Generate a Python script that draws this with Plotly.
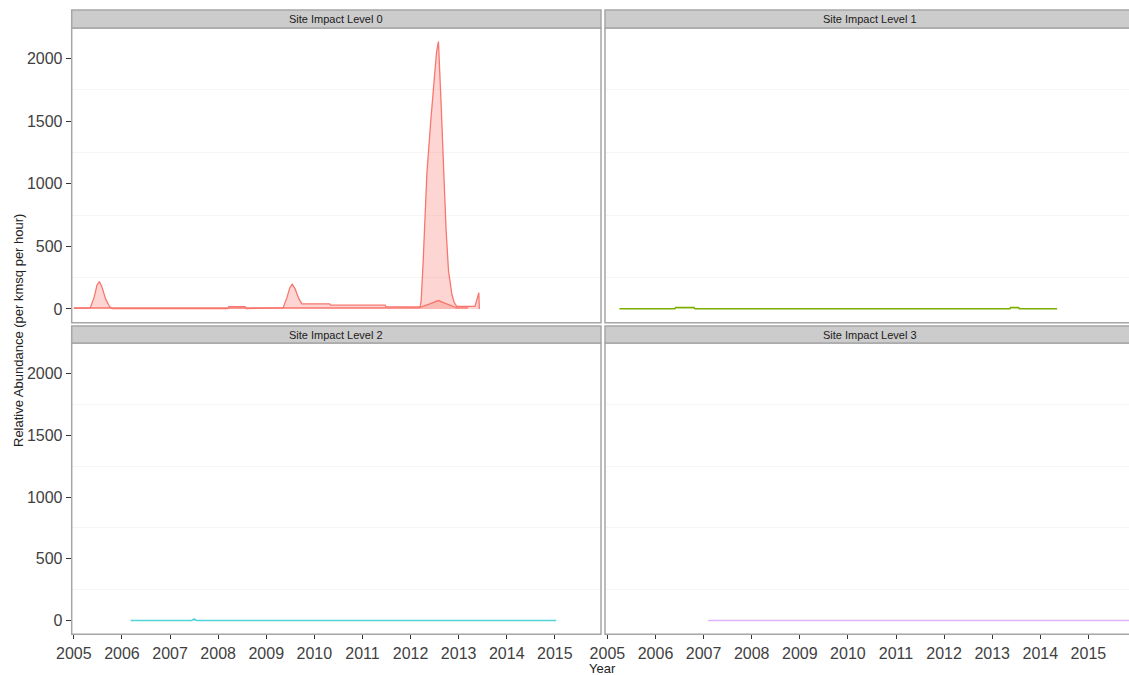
import plotly.graph_objects as go

# Site Impact Level 0 -- several overlapping site series (year, abundance)
lvl0_a_year = [2005.0, 2005.34, 2005.42, 2005.48, 2005.53, 2005.58, 2005.66, 2005.74, 2005.8,
               2008.2, 2008.22, 2008.56, 2008.58,
               2009.35, 2009.43, 2009.49, 2009.54, 2009.6, 2009.68, 2009.74,
               2010.32, 2010.34, 2011.47, 2011.49, 2012.2,
               2012.22, 2012.26, 2012.34, 2012.42, 2012.48, 2012.54, 2012.58, 2012.61, 2012.64,
               2012.67, 2012.71, 2012.74, 2012.79, 2012.83, 2012.86, 2012.91, 2012.96,
               2013.34, 2013.42, 2013.43]
lvl0_a_val = [4, 8, 90, 190, 219, 180, 80, 20, 3,
              3, 19, 19, 3,
              8, 90, 170, 198, 160, 80, 40,
              40, 30, 30, 18, 16,
              60, 357, 1079, 1500, 1749, 2050, 2137, 1900, 1600,
              1300, 900, 624, 303, 180, 115, 50, 21,
              21, 129, 0]
lvl0_b_year = [2005.0, 2008.0, 2012.17, 2012.4, 2012.58, 2012.75, 2012.96, 2013.2]
lvl0_b_val = [8, 8, 8, 40, 67, 40, 8, 8]

# Site Impact Level 1
lvl1_year = [2005.25, 2006.4, 2006.42, 2006.8, 2006.82, 2013.37, 2013.38, 2013.55, 2013.56, 2014.35]
lvl1_val = [2, 2, 12, 12, 2, 2, 12, 12, 2, 2]

# Site Impact Level 2
lvl2_year = [2006.18, 2007.45, 2007.5, 2007.55, 2015.03]
lvl2_val = [2, 2, 14, 2, 2]

# Site Impact Level 3
lvl3_year = [2007.09, 2015.95]
lvl3_val = [2, 2]

panel_titles = ["Site Impact Level 0", "Site Impact Level 1",
                "Site Impact Level 2", "Site Impact Level 3"]
year_ticks = list(range(2005, 2016))
y_ticks = [0, 500, 1000, 1500, 2000]

W, H = 1129, 675
FONT = "Liberation Sans"
BORDER = "#A6A6A6"

def px_x(p):
    return p / W

def px_y(p):
    return 1 - p / H

# panel geometry in pixels
left_col = (71.7, 601)
right_col = (605, 1134)
top_row = (28, 322.7)
bot_row = (343, 634.3)
top_strip = (10, 28)
bot_strip = (326, 343)

xr_left = [2004.955, 2015.96]
yr = [-110, 2245]

fig = go.Figure()

def area(x, y, color, fill, xa, ya, width=1.3):
    fig.add_trace(go.Scatter(x=x, y=y, mode="lines", fill="tozeroy",
                             fillcolor=fill, line=dict(color=color, width=width),
                             xaxis=xa, yaxis=ya, showlegend=False, hoverinfo="x+y"))

area(lvl0_a_year, lvl0_a_val, "#F8766D", "rgba(248,118,109,0.3)", "x", "y")
area(lvl0_b_year, lvl0_b_val, "#F8766D", "rgba(248,118,109,0.3)", "x", "y")
area(lvl1_year, lvl1_val, "#7CAE00", "rgba(124,174,0,0.3)", "x2", "y2", 1.5)
area(lvl2_year, lvl2_val, "rgba(0,191,196,0.65)", "rgba(0,191,196,0.3)", "x3", "y3", 1.5)
area(lvl3_year, lvl3_val, "rgba(199,124,255,0.55)", "rgba(199,124,255,0.3)", "x4", "y4", 1.5)

tickfont = dict(family=FONT, size=16, color="#3F3F3F")
minor = dict(tickmode="array", tickvals=[250, 750, 1250, 1750], showgrid=True,
             gridcolor="#F5F5F5", gridwidth=1, ticks="")

def xaxis(dom, rng, anchor, show):
    return dict(domain=[px_x(dom[0]), min(px_x(dom[1]), 1.0)], range=rng, anchor=anchor,
                showgrid=False, zeroline=False, showline=False, automargin=False,
                tickmode="array", tickvals=year_ticks if show else [],
                ticktext=[str(v) for v in year_ticks] if show else [],
                ticks="outside" if show else "", ticklen=4, tickcolor="#333333",
                tickfont=tickfont, fixedrange=True)

def yaxis(dom, anchor, show):
    return dict(domain=[px_y(dom[1]), px_y(dom[0])], range=yr, anchor=anchor,
                showgrid=False, zeroline=False, showline=False, automargin=False,
                tickmode="array", tickvals=y_ticks if show else [],
                ticktext=[str(v) for v in y_ticks] if show else [],
                ticks="outside" if show else "", ticklen=5, tickcolor="#333333",
                tickfont=tickfont, minor=minor, fixedrange=True)

# right column is cut by the picture edge
right_dom = (right_col[0], min(right_col[1], W))
xr_right = [2004.95, 2004.95 + (right_dom[1] - right_dom[0]) / 48.1]

fig.update_layout(
    xaxis=xaxis(left_col, xr_left, "y", False),
    xaxis2=xaxis(right_dom, xr_right, "y2", False),
    xaxis3=xaxis(left_col, xr_left, "y3", True),
    xaxis4=xaxis(right_dom, xr_right, "y4", True),
    yaxis=yaxis(top_row, "x", True),
    yaxis2=yaxis(top_row, "x2", False),
    yaxis3=yaxis(bot_row, "x3", True),
    yaxis4=yaxis(bot_row, "x4", False),
)

shapes = []
annotations = []
cells = [(left_col, top_row, top_strip), (right_col, top_row, top_strip),
         (left_col, bot_row, bot_strip), (right_col, bot_row, bot_strip)]
for title, (col, row, strip) in zip(panel_titles, cells):
    # panel border
    shapes.append(dict(type="rect", xref="paper", yref="paper",
                       x0=px_x(col[0]), x1=px_x(col[1]), y0=px_y(row[1]), y1=px_y(row[0]),
                       line=dict(color=BORDER, width=1.5), fillcolor="rgba(0,0,0,0)", layer="above"))
    # strip
    shapes.append(dict(type="rect", xref="paper", yref="paper",
                       x0=px_x(col[0]), x1=px_x(col[1]), y0=px_y(strip[1]), y1=px_y(strip[0]),
                       line=dict(color=BORDER, width=1.5), fillcolor="#CCCCCC", layer="above"))
    annotations.append(dict(text=title, xref="paper", yref="paper",
                            x=px_x((col[0] + col[1]) / 2), y=px_y((strip[0] + strip[1]) / 2),
                            xanchor="center", yanchor="middle", showarrow=False,
                            font=dict(family=FONT, size=11, color="#1A1A1A")))

annotations.append(dict(text="Year", xref="paper", yref="paper", x=px_x(602), y=px_y(668),
                        xanchor="center", yanchor="middle", showarrow=False,
                        font=dict(family=FONT, size=13, color="#222222")))
annotations.append(dict(text="Relative Abundance (per kmsq per hour)", xref="paper", yref="paper",
                        x=px_x(18), y=px_y(331), xanchor="center", yanchor="middle",
                        textangle=-90, showarrow=False,
                        font=dict(family=FONT, size=13, color="#222222")))

fig.update_layout(
    width=W, height=H,
    margin=dict(l=0, r=0, t=0, b=0, autoexpand=False),
    paper_bgcolor="white", plot_bgcolor="white",
    shapes=shapes, annotations=annotations,
    showlegend=False,
)

# drop the browser's default body margin so the figure sits at the page corner
fig.write_html("out.html", config={"displayModeBar": False},
               post_script="document.body.style.margin='0px';")
